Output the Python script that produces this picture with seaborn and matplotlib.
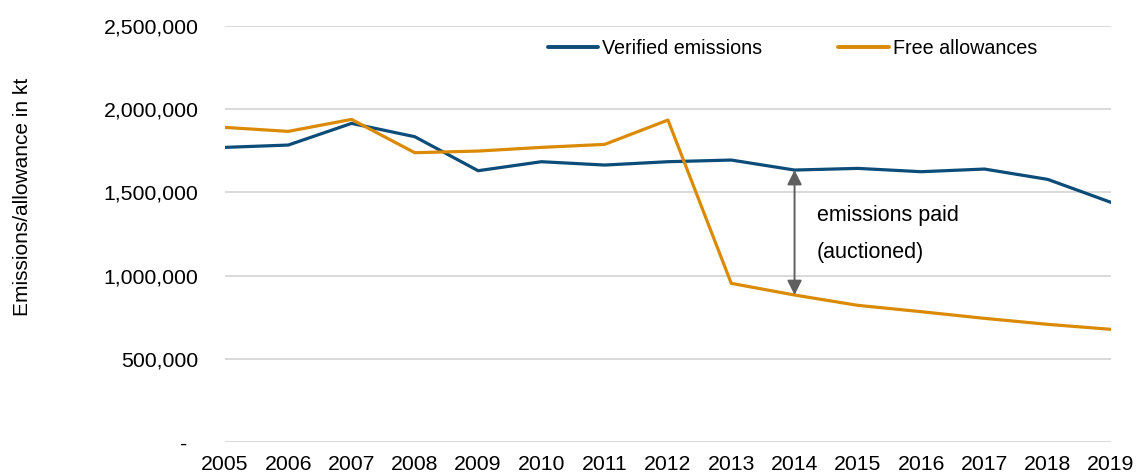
import numpy as np
import pandas as pd
import matplotlib
matplotlib.use("Agg")
import matplotlib.pyplot as plt
import matplotlib.ticker as mticker
import seaborn as sns

# data (kt)
years = [2005, 2006, 2007, 2008, 2009, 2010, 2011, 2012, 2013, 2014, 2015, 2016, 2017, 2018, 2019]
verified = [1770000, 1784000, 1914000, 1834000, 1630000, 1684000, 1664000, 1684000,
            1694000, 1634000, 1644000, 1624000, 1640000, 1578000, 1440000]
free = [1890000, 1866000, 1938000, 1738000, 1748000, 1770000, 1788000, 1934000,
        954000, 884000, 822000, 784000, 744000, 708000, 678000]
series_names = ["Verified emissions", "Free allowances"]
colors = ["#0B4C78", "#DB8A06"]
y_ticks = [0, 500000, 1000000, 1500000, 2000000, 2500000]

df = pd.DataFrame({
    "year": years * 2,
    "value": verified + free,
    "series": [series_names[0]] * len(years) + [series_names[1]] * len(years),
})

sns.set_style("white")
plt.rcParams['font.family'] = ['Liberation Sans', 'DejaVu Sans']
plt.rcParams['text.color'] = 'black'
plt.rcParams['axes.labelcolor'] = 'black'

fig = plt.figure(figsize=(11.36, 4.75), dpi=100)
ax = fig.add_axes([0.198, 0.0688, 0.780, 0.877])

sns.lineplot(data=df, x="year", y="value", hue="series", palette=colors,
             linewidth=2.3, ax=ax)

ax.set_xlim(2005, 2019)
ax.set_ylim(0, 2500000)
ax.set_xticks(years)
ax.set_yticks(y_ticks)

def fmt(v, pos):
    if v == 0:
        return "-  "
    return "{:,.0f}".format(v)

ax.yaxis.set_major_formatter(mticker.FuncFormatter(fmt))
ax.tick_params(axis='y', length=0, pad=19, labelsize=15.3, labelcolor='black')
ax.tick_params(axis='x', length=0, pad=9, labelsize=15.3, labelcolor='black')
ax.grid(axis='y', color='#d9d9d9', linewidth=1.4)
ax.grid(axis='x', visible=False)
for s in ax.spines.values():
    s.set_visible(False)

ax.set_xlabel("")
ax.set_ylabel("Emissions/allowance in kt", fontsize=15)
ax.yaxis.set_label_coords(-0.218, 0.59)

# arrow showing the auctioned gap
i14 = years.index(2014)
ax.annotate("", xy=(2014, free[i14]), xytext=(2014, verified[i14]),
            arrowprops=dict(arrowstyle='<|-|>', color='#5f5f5f', lw=1.4,
                            mutation_scale=22, shrinkA=0, shrinkB=0))
ax.text(2014.35, 1364000, "emissions paid", fontsize=15.5, va='center', ha='left')
ax.text(2014.35, 1142000, "(auctioned)", fontsize=15.5, va='center', ha='left')

leg = ax.legend(loc='center left', bbox_to_anchor=(0.3646, 0.946), ncol=2, frameon=False,
                fontsize=14.2, handlelength=2.55, handletextpad=0.2, columnspacing=3.85,
                borderaxespad=0, borderpad=0)
for line in leg.get_lines():
    line.set_linewidth(2.8)

fig.savefig("out.png", dpi=100)
